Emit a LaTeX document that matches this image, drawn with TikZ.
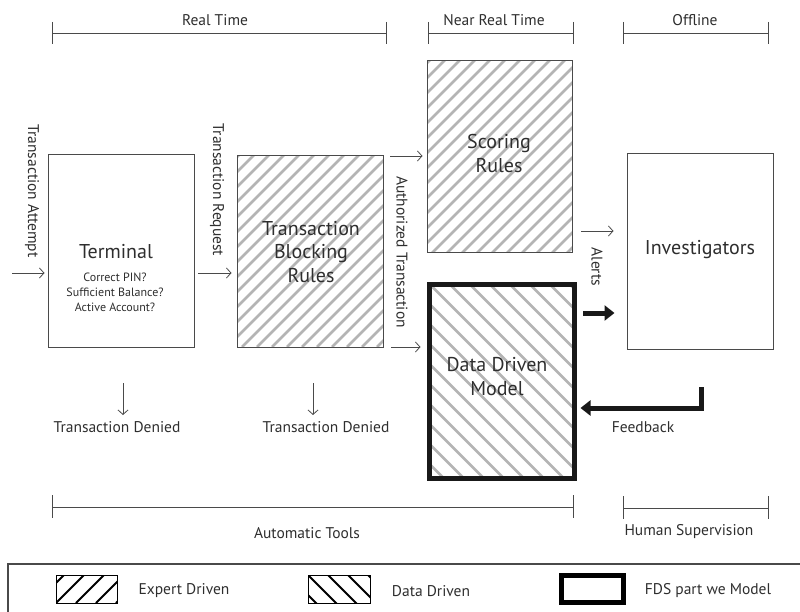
\documentclass[tikz,border=0pt]{standalone}
\usepackage{fontspec}
\setmainfont{PT Sans}
\usetikzlibrary{arrows.meta}
\definecolor{ink}{HTML}{2E2E2E}
\definecolor{edge}{HTML}{4A4A4A}
\definecolor{hatchgray}{HTML}{B4B4B4}
\begin{document}
\begin{tikzpicture}[x=1pt,y=-1pt,
  lbl/.style={text=ink, font=\fontsize{15.5}{18}\selectfont, inner sep=0},
  ttl/.style={text=ink, font=\fontsize{20}{23.5}\selectfont, inner sep=0, align=center},
  sml/.style={text=ink, font=\fontsize{12}{15}\selectfont, inner sep=0, align=center},
  box/.style={draw=edge, line width=1pt, inner sep=0, minimum width=146pt, minimum height=192pt},
  hatchline/.style={draw=hatchgray, line width=2.6pt},
  hatchNE/.style={path picture={\foreach \i in {-220,-205,...,160}{\draw[hatchline] ([xshift=\i pt]path picture bounding box.south west) -- ++(260pt,260pt);}}},
  hatchNW/.style={path picture={\foreach \i in {-220,-200,...,160}{\draw[hatchline] ([xshift=\i pt]path picture bounding box.north west) -- ++(260pt,-260pt);}}},
  legNE/.style={path picture={\foreach \i in {-40,-20,...,60}{\draw[black, line width=2pt] ([xshift=\i pt]path picture bounding box.south west) -- ++(40pt,40pt);}}},
  legNW/.style={path picture={\foreach \i in {-40,-20,...,60}{\draw[black, line width=2pt] ([xshift=\i pt]path picture bounding box.north west) -- ++(40pt,-40pt);}}},
  arr/.style={draw=edge, line width=0.8pt, -{Straight Barb[length=4.5pt,width=10pt,line width=0.8pt]}},
  tarr/.style={draw=black!90, line width=5pt, -{Triangle[length=10pt,width=15pt]}},
  brk/.style={draw=edge, line width=0.9pt}
]
\useasboundingbox (0,0) rectangle (800,612);

% top brackets
\draw[brk] (52,22) -- (52,44) (52,33) -- (386,33) (386,22) -- (386,44);
\draw[brk] (428,22) -- (428,44) (428,33) -- (573,33) (573,22) -- (573,44);
\draw[brk] (623,22) -- (623,44) (623,33) -- (768,33) (768,22) -- (768,44);
\node[lbl] (rt) at (215,20) {Real Time};
\node[lbl] (nrt) at (494,20) {Near Real Time};
\node[lbl] (off) at (695,20) {Offline};

% boxes
\node[box] (term) at (121,251) {};
\node[box, hatchNE, minimum height=191pt] (block) at (310,251.5) {};
\node[box, hatchNE, minimum width=145pt] (score) at (499.5,157) {};
\node[box, hatchNW, draw=black!90, line width=5pt, minimum width=145pt, minimum height=194pt] (ddm) at (502,381) {};
\node[box, minimum height=195pt] (inv) at (700,251.5) {};

% box texts
\node[ttl] (termT) at (116,252) {Terminal};
\node[sml] (termQ) at (115,292) {Correct PIN?\\Sufficient Balance?\\Active Account?};
\node[ttl] (blockT) at (311,252) {Transaction\\Blocking\\Rules};
\node[ttl] (scoreT) at (499,153.5) {Scoring\\Rules};
\node[ttl] (ddmT) at (497,376.5) {Data Driven\\Model};
\node[ttl] (invT) at (700,250) {Investigators};

% input arrows
\coordinate (ta) at (12,273);
\draw[arr, shorten >=3pt] (ta) -- (term.west |- ta);
\node[lbl, rotate=-90] (taL) at (32,191) {Transaction Attempt};
\coordinate (tr) at (198,273);
\draw[arr, shorten >=5pt] (tr) -- (block.west |- tr);
\node[lbl, rotate=-90] (trL) at (217,190) {Transaction Request};

% authorized
\coordinate (au1) at (390,156);
\coordinate (au2) at (391,347);
\draw[arr, shorten >=4pt] (au1) -- (score.west |- au1);
\draw[arr, shorten >=4pt] (au2) -- ([xshift=-2.5pt]ddm.west |- au2);
\node[lbl, rotate=-90] (auL) at (402,252) {Authorized Transaction};

% alerts
\coordinate (al) at (581,231);
\draw[arr, shorten >=13pt] (al) -- (inv.west |- al);
\node[lbl, rotate=-90] (alL) at (597,267) {Alerts};
\coordinate (al2) at (583,313);
\draw[tarr, shorten >=12pt] (al2) -- (inv.west |- al2);

% feedback
\coordinate (fb) at (701,387);
\coordinate (fbc) at (701,408);
\draw[tarr, shorten >=0.5pt] (fb) -- (fbc) -- ([xshift=3pt]ddm.east |- fbc);
\node[lbl] (fbL) at (643,427) {Feedback};

% denied
\coordinate (d1) at (123,383);
\coordinate (d1e) at (123,415);
\draw[arr] (d1) -- (d1e);
\node[lbl] (den1) at (117,427) {Transaction Denied};
\coordinate (d2) at (313,383);
\coordinate (d2e) at (313,415);
\draw[arr] (d2) -- (d2e);
\node[lbl] (den2) at (326,427) {Transaction Denied};

% bottom brackets
\draw[brk] (52,495) -- (52,518) (52,507) -- (573,507) (573,495) -- (573,518);
\draw[brk] (623,496) -- (623,519) (623,508) -- (768,508) (768,496) -- (768,519);
\node[lbl] (auto) at (307,533) {Automatic Tools};
\node[lbl] (hum) at (689,532) {Human Supervision};

% legend
\draw[draw=edge, line width=1.2pt] (8,625) -- (8,564) -- (810,564);
\node[draw=black, line width=1pt, inner sep=0, minimum width=61pt, minimum height=28pt, legNE] (sw1) at (86.5,589) {};
\node[lbl] (lg1) at (184,591) {Expert Driven};
\node[draw=black, line width=1pt, inner sep=0, minimum width=62pt, minimum height=28pt, legNW] (sw2) at (339,589) {};
\node[lbl] (lg2) at (431,591) {Data Driven};
\node[draw=black, line width=5pt, inner sep=0, minimum width=62pt, minimum height=27pt] (sw3) at (592.5,589) {};
\node[lbl] (lg3) at (708,591) {FDS part we Model};
\end{tikzpicture}
\end{document}
